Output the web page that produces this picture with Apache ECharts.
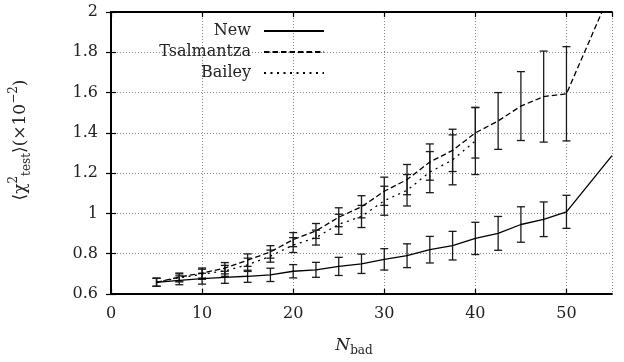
<!DOCTYPE html>
<html>
<head>
<meta charset="utf-8">
<script src="https://cdn.jsdelivr.net/npm/echarts@6/dist/echarts.min.js"></script>
<style>html,body{margin:0;padding:0;background:#fff;}#c{width:624px;height:362px;}</style>
</head>
<body>
<div id="c"></div>
<script>
// N_bad values
const nbad = [5, 7.5, 10, 12.5, 15, 17.5, 20, 22.5, 25, 27.5, 30, 32.5, 35, 37.5, 40, 42.5, 45, 47.5, 50, 55];
// New
const newMean = [0.658, 0.668, 0.676, 0.683, 0.688, 0.695, 0.713, 0.72, 0.737, 0.75, 0.772, 0.79, 0.82, 0.84, 0.876, 0.901, 0.945, 0.971, 1.008, 1.287];
const newErr  = [0.02, 0.022, 0.027, 0.03, 0.03, 0.033, 0.033, 0.037, 0.045, 0.048, 0.053, 0.059, 0.066, 0.071, 0.08, 0.084, 0.088, 0.086, 0.082, null];
// Tsalmantza
const tsalMean = [0.658, 0.684, 0.704, 0.728, 0.768, 0.809, 0.87, 0.913, 0.981, 1.033, 1.11, 1.168, 1.255, 1.313, 1.40, 1.459, 1.533, 1.58, 1.594, 2.115];
const tsalErr  = [0.02, 0.02, 0.025, 0.028, 0.031, 0.031, 0.035, 0.037, 0.047, 0.055, 0.07, 0.075, 0.09, 0.105, 0.125, 0.141, 0.171, 0.226, 0.234, null];
// Bailey (up to N_bad = 40)
const baileyMean = [0.658, 0.68, 0.698, 0.715, 0.745, 0.788, 0.843, 0.88, 0.946, 0.985, 1.063, 1.115, 1.205, 1.266, 1.36];
const baileyErr  = [0.02, 0.02, 0.025, 0.027, 0.033, 0.03, 0.037, 0.037, 0.05, 0.055, 0.072, 0.078, 0.102, 0.124, 0.167];
// axis ticks
const xTicks = {min: 0, max: 55, interval: 10};
const yTicks = {min: 0.6, max: 2, interval: 0.2};

const FONT = 'DejaVu Serif';
const TXT = '#222';

function pairs(xs, ys) { return ys.map((v, i) => [xs[i], v]); }
function errData(xs, ys, es) {
  const out = [];
  ys.forEach((v, i) => { if (es[i] != null) out.push([xs[i], v, es[i]]); });
  return out;
}
function errSeries(name, data) {
  return {
    type: 'custom', name: name, data: data, clip: true, z: 3,
    encode: {x: 0, y: 1},
    renderItem: function (params, api) {
      const x = api.value(0), y = api.value(1), e = api.value(2);
      const t = api.coord([x, y + e]);
      const b = api.coord([x, y - e]);
      const hw = 4;
      const st = {stroke: '#1a1a1a', lineWidth: 1.3, fill: null};
      return {type: 'group', children: [
        {type: 'line', shape: {x1: t[0], y1: t[1], x2: b[0], y2: b[1]}, style: st},
        {type: 'line', shape: {x1: t[0] - hw, y1: t[1], x2: t[0] + hw, y2: t[1]}, style: st},
        {type: 'line', shape: {x1: b[0] - hw, y1: b[1], x2: b[0] + hw, y2: b[1]}, style: st}
      ]};
    }
  };
}

const gridLine = {show: true, lineStyle: {color: '#888', width: 1, type: [1, 2]}};
const axisLineStyle = {show: true, lineStyle: {color: '#000', width: 1.8}};
const tickIn = {show: true, inside: true, length: 5, lineStyle: {color: '#000', width: 1.2}};

const chart = echarts.init(document.getElementById('c'), null, {renderer: 'canvas'});
chart.setOption({
  animation: false,
  backgroundColor: '#fff',
  textStyle: {fontFamily: FONT},
  grid: {left: 111, top: 12, right: 12, bottom: 66, containLabel: false},
  legend: {
    orient: 'vertical', right: 299, top: 23, padding: 0,
    align: 'right', itemWidth: 60, itemHeight: 12, itemGap: 5,
    data: ['New', 'Tsalmantza', 'Bailey'],
    itemStyle: {opacity: 0},
    textStyle: {fontFamily: FONT, fontSize: 16, color: TXT, padding: [0, 8, 0, 0]}
  },
  xAxis: [{
    type: 'value', position: 'bottom', min: xTicks.min, max: xTicks.max, interval: xTicks.interval,
    axisLine: axisLineStyle, axisTick: tickIn, splitLine: gridLine,
    axisLabel: {margin: 12, fontFamily: FONT, fontSize: 16, color: TXT, showMaxLabel: false},
    name: '{it|N}{sub|bad}', nameLocation: 'middle', nameGap: 41,
    nameTextStyle: {
      padding: [0, 15, 0, 0],
      rich: {
        it: {fontFamily: FONT, fontSize: 17, fontStyle: 'italic', color: TXT, lineHeight: 22, verticalAlign: 'middle'},
        sub: {fontFamily: FONT, fontSize: 12, color: TXT, lineHeight: 22, verticalAlign: 'bottom'}
      }
    }
  }, {
    type: 'value', position: 'top', min: xTicks.min, max: xTicks.max, interval: xTicks.interval,
    axisLine: axisLineStyle, axisTick: tickIn, splitLine: {show: false}, axisLabel: {show: false}
  }],
  yAxis: [{
    type: 'value', position: 'left', min: yTicks.min, max: yTicks.max, interval: yTicks.interval,
    axisLine: axisLineStyle, axisTick: tickIn, splitLine: gridLine,
    axisLabel: {margin: 13, fontFamily: FONT, fontSize: 16, color: TXT},
    name: '⟨χ{sup|2}{sub|test}⟩(×10{sup|−2})', nameLocation: 'middle', nameRotate: 90, nameGap: 78,
    nameTextStyle: {
      fontFamily: FONT, fontSize: 17, color: TXT,
      padding: [0, 0, 0, 26],
      rich: {
        sup: {fontFamily: FONT, fontSize: 12, color: TXT, lineHeight: 25, verticalAlign: 'top'},
        sub: {fontFamily: FONT, fontSize: 12, color: TXT, lineHeight: 25, verticalAlign: 'bottom'}
      }
    }
  }, {
    type: 'value', position: 'right', min: yTicks.min, max: yTicks.max, interval: yTicks.interval,
    axisLine: axisLineStyle, axisTick: tickIn, splitLine: {show: false}, axisLabel: {show: false}
  }],
  series: [
    {name: 'New', type: 'line', data: pairs(nbad, newMean), symbol: 'none', z: 4,
     lineStyle: {color: '#000', width: 1.3, type: 'solid'}, itemStyle: {color: '#000'}},
    {name: 'Tsalmantza', type: 'line', data: pairs(nbad, tsalMean), symbol: 'none', z: 4,
     lineStyle: {color: '#000', width: 1.3, type: [5.5, 3]}, itemStyle: {color: '#000'}},
    {name: 'Bailey', type: 'line', data: pairs(nbad, baileyMean), symbol: 'none', z: 4,
     lineStyle: {color: '#000', width: 1.3, type: [2, 4.5]}, itemStyle: {color: '#000'}},
    errSeries('errNew', errData(nbad, newMean, newErr)),
    errSeries('errTsal', errData(nbad, tsalMean, tsalErr)),
    errSeries('errBailey', errData(nbad, baileyMean, baileyErr))
  ]
});
</script>
</body>
</html>
